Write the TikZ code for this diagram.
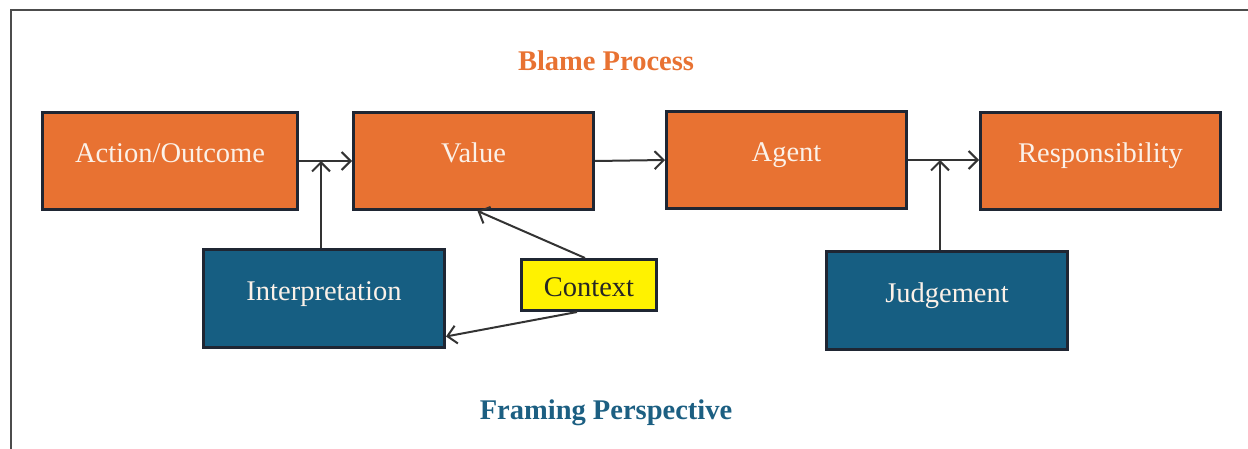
\documentclass[tikz,border=0pt]{standalone}
\usepackage{fontspec}
\setmainfont{Liberation Serif}
\usetikzlibrary{arrows.meta,calc}
\definecolor{boxorange}{HTML}{E87232}
\definecolor{boxblue}{HTML}{165E82}
\definecolor{boxedge}{HTML}{1F2633}
\definecolor{linegray}{HTML}{333333}
\definecolor{titleblue}{HTML}{1C5F82}
\definecolor{boxtext}{HTML}{FBF1E8}
\begin{document}
\begin{tikzpicture}[x=1pt,y=-1pt,
  every node/.style={font=\fontsize{28.5}{34}\selectfont},
  box/.style={draw=boxedge, line width=3pt, inner sep=0pt, text height=50pt, text depth=47pt, text=boxtext},
  orangebox/.style={box, fill=boxorange, minimum width=255pt},
  bluebox/.style={box, fill=boxblue, minimum width=241pt},
  ctxbox/.style={draw=boxedge, line width=3pt, inner sep=0pt, fill=yellow, text=black!85, minimum width=135pt, text height=37pt, text depth=14pt},
  arr/.style={draw=linegray, line width=2pt, -{Straight Barb[length=9pt,width=18pt]}},
  title/.style={font=\bfseries\fontsize{28.5}{34}\selectfont}]
\useasboundingbox (0,0) rectangle (1248,449);
\draw[draw=black!70, line width=1.8pt] (11,449) -- (11,10) -- (1248,10);

\node[title, text=boxorange] (t1) at (606,61) {Blame Process};
\node[title, text=titleblue] (t2) at (606,413) {Framing Perspective};

\node[orangebox, minimum width=255pt] (ao) at (170,161) {Action/Outcome};
\node[orangebox, minimum width=240pt] (val) at (473.5,161) {Value};
\node[orangebox, minimum width=240pt] (ag) at (786.5,160) {Agent};
\node[orangebox, minimum width=240pt] (resp) at (1100.5,161) {Responsibility};

\node[bluebox] (int) at (324,298.5) {Interpretation};
\node[bluebox] (jud) at (947,300.5) {Judgement};
\node[ctxbox] (ctx) at (589,285) {Context};

\coordinate (j1) at (321,161);
\coordinate (j2) at (940,160);

\draw[arr] (ao.east |- j1) -- (val.west |- j1);
\draw[arr] (j1 |- int.north) -- (j1);
\draw[arr] (val.east |- j1) -- (ag.west |- j2);
\draw[arr] (ag.east |- j2) -- (resp.west |- j2);
\draw[arr] (j2 |- jud.north) -- (j2);
\draw[arr] ($(ctx.north)+(-4,0)$) -- ($(val.south)+(4,0)$);
\draw[arr] ($(ctx.south)+(-12,0)$) -- ($(int.south east)+(0,-12)$);
\end{tikzpicture}
\end{document}
